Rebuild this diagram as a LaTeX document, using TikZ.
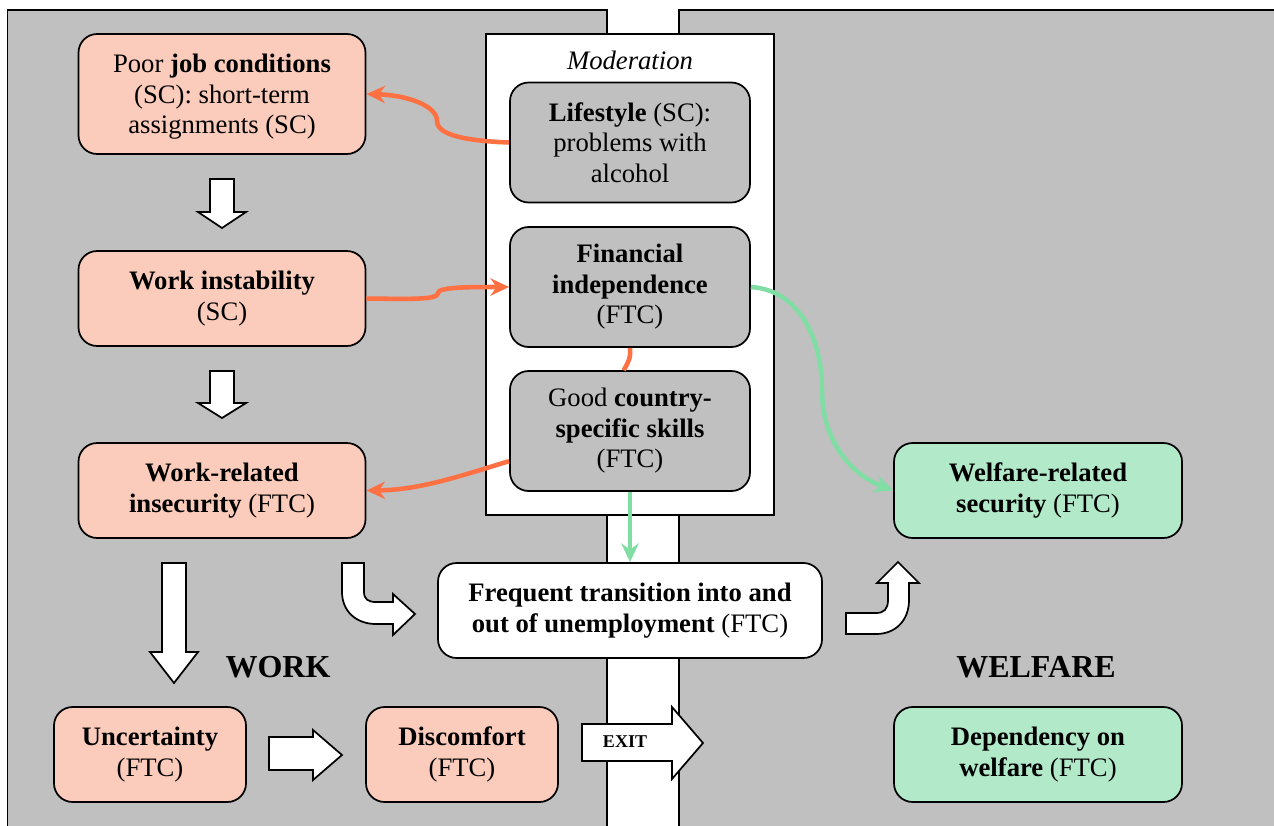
\documentclass[tikz,border=0pt]{standalone}
\usepackage{fontspec}
\setmainfont{Liberation Serif}
\usetikzlibrary{arrows.meta}
\definecolor{panel}{RGB}{192,192,192}
\definecolor{salmon}{RGB}{251,203,187}
\definecolor{mint}{RGB}{177,233,201}
\definecolor{orline}{RGB}{255,112,67}
\definecolor{grline}{RGB}{128,222,165}
\begin{document}
\begin{tikzpicture}[x=0.75pt,y=-0.75pt,
  box/.style={draw=black,line width=1.3pt,rounded corners=14pt,align=center,
    inner sep=0pt,font=\fontsize{20}{22.9}\selectfont},
  workbox/.style={box,fill=salmon},
  modbox/.style={box,fill=panel},
  welfbox/.style={box,fill=mint},
  wide/.style={minimum width=215.25pt,minimum height=71.25pt},
  small/.style={minimum width=144pt,minimum height=71.25pt},
  mid/.style={minimum width=180pt,minimum height=90pt},
  blk/.style={draw=black,fill=white,line width=1.3pt,line join=miter},
  link/.style={line width=3.4pt,-{Stealth[length=14pt,width=13pt]}},
  orlink/.style={link,draw=orline,color=orline},
  grlink/.style={link,draw=grline,color=grline},
  region/.style={fill=panel,draw=black,line width=1.4pt},
  heading/.style={font=\fontsize{24}{28}\selectfont\bfseries}
]
\useasboundingbox (0,0) rectangle (1274,825);
\clip (0,0) rectangle (1274,825);

% two regions separated by the road
\path[region] (7.5,10) rectangle (607,845);
\path[region] (679,10) rectangle (1295,845);

% moderation frame
\draw[fill=white,line width=1.4pt] (486,34) rectangle (774,515);
\node[font=\fontsize{20}{22.9}\selectfont\itshape] (modlabel) at (630,60) {Moderation};

% work side
\node[workbox,minimum width=215.25pt,minimum height=90pt] (job) at (222,94)
  {\rule{0pt}{18pt}Poor \textbf{job conditions}\\(SC): short-term\\assignments (SC)};
\node[workbox,wide] (inst) at (222,298.5) {\textbf{Work instability}\\(SC)};
\node[workbox,wide] (insec) at (222,490.5) {\textbf{Work-related}\\\textbf{insecurity} (FTC)};
\node[workbox,small] (unc) at (150,754.5) {\textbf{Uncertainty}\\(FTC)};
\node[workbox,small] (disc) at (462,754.5) {\textbf{Discomfort}\\(FTC)};

% moderators
\node[modbox,mid] (life) at (630,142.5) {\textbf{Lifestyle} (SC):\\problems with\\alcohol};
\node[modbox,mid] (fin) at (630,287) {\textbf{Financial}\\\textbf{independence}\\(FTC)};
\node[modbox,mid] (skills) at (630,431) {Good \textbf{country-}\\\textbf{specific skills}\\(FTC)};

% transition
\node[box,fill=white,minimum width=288pt,minimum height=71.25pt] (freq) at (630,610.5)
  {\textbf{Frequent transition into and}\\\textbf{out of unemployment} (FTC)};

% welfare side
\node[welfbox,minimum width=216pt,minimum height=71.25pt] (welf) at (1038,490.5)
  {\textbf{Welfare-related}\\\textbf{security} (FTC)};
\node[welfbox,minimum width=216pt,minimum height=71.25pt] (dep) at (1038,754.5)
  {\textbf{Dependency on}\\\textbf{welfare} (FTC)};

\node[heading] (work) at (278,667) {WORK};
\node[heading] (welfare) at (1036,667) {WELFARE};

% block arrows
\path[blk] (210,179) -- (234,179) -- (234,212) -- (246,212) -- (222,228) -- (198,212) -- (210,212) -- cycle;
\path[blk] (210,371) -- (234,371) -- (234,403) -- (246,403) -- (222,418) -- (198,403) -- (210,403) -- cycle;
\path[blk] (162,563) -- (186,563) -- (186,652) -- (198,652) -- (174,683) -- (150,652) -- (162,652) -- cycle;
\path[blk] (269,737) -- (313,737) -- (313,730) -- (342,755) -- (313,780) -- (313,770) -- (269,770) -- cycle;
\path[blk] (342,563) -- (364,563) -- (364,592) .. controls (364,599) and (368,602) .. (376,602)
  -- (393,602) -- (393,594) -- (415,614) -- (393,635) -- (393,624) -- (376,624)
  .. controls (356,624) and (342,611) .. (342,592) -- cycle;
\path[blk] (846,613) -- (876,613) .. controls (884,613) and (888,609) .. (888,600)
  -- (888,583) -- (877,583) -- (898,562) -- (919,583) -- (909,583) -- (909,600)
  .. controls (909,620) and (896,634) .. (876,634) -- (846,634) -- cycle;
\path[blk] (582,724) -- (672,724) -- (672,707) -- (703,743) -- (672,779) -- (672,761) -- (582,761) -- cycle;
\node[font=\fontsize{13.5}{15}\selectfont\bfseries] (exit) at (625,742) {EXIT};

% moderating links
\draw[orlink] (life.west) .. controls (470,141) and (437,136) .. (437,121)
  .. controls (437,105) and (405,95) .. (job.east);
\draw[orlink] (inst.east) .. controls (410,299) and (438,300) .. (438,293)
  .. controls (438,287) and (470,287) .. (fin.west);
\draw[orlink] (skills.194) .. controls (460,476) and (420,490) .. (insec.east);
\draw[line width=3.4pt,orline] (fin.south) .. controls (631,358) and (628,363) .. (skills.96);
\draw[grlink] (skills.south) -- (freq.north);
\draw[grlink] (fin.east) .. controls (800,290) and (822,340) .. (822,390)
  .. controls (822,440) and (850,474) .. (welf.west);
\end{tikzpicture}
\end{document}
